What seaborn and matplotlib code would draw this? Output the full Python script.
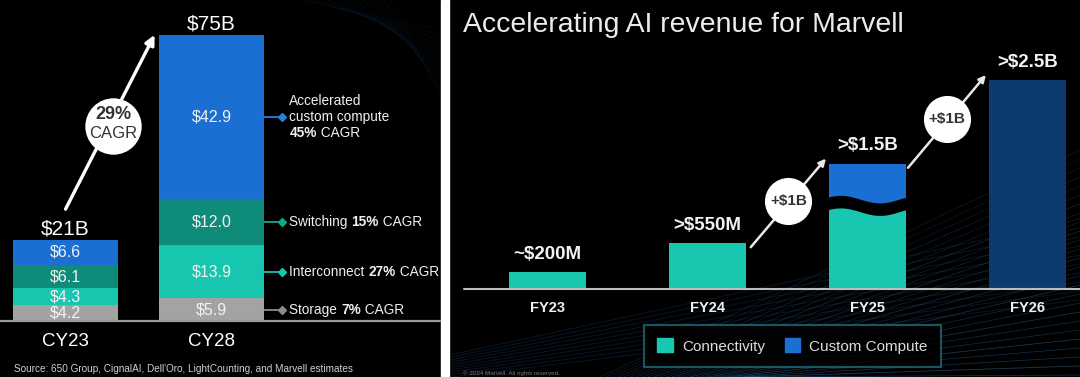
import numpy as np
import pandas as pd
import seaborn as sns
import matplotlib
matplotlib.use("Agg")
import matplotlib.pyplot as plt
from matplotlib.patches import Rectangle, Patch

# ---------------- data ----------------
years_l = ["CY23", "CY28"]
storage = [4.2, 5.9]
interconnect = [4.3, 13.9]
switching = [6.1, 12.0]
compute = [6.6, 42.9]
totals_l = ["$21B", "$75B"]
cagr_overall = ["29%", "CAGR"]

fy = ["FY23", "FY24", "FY25", "FY26"]
connectivity = [200, 550, 1000, 0]
total_rev = [200, 550, 1500, 2500]
fy_labels = ["~$200M", ">$550M", ">$1.5B", ">$2.5B"]
step_labels = ["+$1B", "+$1B"]

# ---------------- style ----------------
sns.set_theme(style="white")
plt.rcParams["font.family"] = ["Liberation Sans", "DejaVu Sans"]

C_COMPUTE = "#1b6fd3"
C_SWITCH = "#0f8b79"
C_INTER = "#17c6ae"
C_STORE = "#a3a3a3"
C_TEAL = "#19c7b0"
C_BLUE = "#1a6fd2"
C_NAVY = "#0d3b6d"

W, H = 1080, 377
fig = plt.figure(figsize=(W / 100, H / 100), dpi=100, facecolor="black")


def px_axes(x0, y0, x1, y1, z=1):
    ax = fig.add_axes([x0 / W, 1 - y1 / H, (x1 - x0) / W, (y1 - y0) / H])
    ax.set_zorder(z)
    ax.patch.set_alpha(0)
    return ax


# background (streaks + divider)
bg = px_axes(0, 0, W, H, z=0)
bg.set_xlim(0, W)
bg.set_ylim(H, 0)
bg.axis("off")
# right panel streaks (bottom right)
for k in range(26):
    y_end = 150 + k * 9
    bg.plot([600 + k * 6, 1080], [377, y_end], color="#2a78c8" if k % 3 else "#4aa0e0",
            lw=0.5, alpha=0.18 + 0.01 * k, zorder=0)
for k in range(10):
    bg.plot([452, 1080], [377 - k * 2.5, 300 - k * 9], color="#2563b0", lw=0.7, alpha=0.22, zorder=0)
# left panel streaks (top right)
for k in range(14):
    bg.plot([300 + k * 7, 440], [0, 30 + k * 5], color="#245f9e", lw=0.5, alpha=0.22,
            ls=(0, (1, 1)), zorder=0)
# divider between the two slides
bg.add_patch(Rectangle((441, 0), 8, H, color="white", zorder=5))

# ---------------- left panel ----------------
axL = px_axes(0, 0, 440, 321, z=2)
layers = [storage, interconnect, switching, compute]
cols = [C_STORE, C_INTER, C_SWITCH, C_COMPUTE]
cums = np.cumsum(np.array(layers), axis=0)
for i in range(len(layers) - 1, -1, -1):
    sns.barplot(x=years_l, y=cums[i], color=cols[i], width=0.72, saturation=1,
                linewidth=0, ax=axL)
axL.set_xlim(-0.449, 2.565)
axL.set_ylim(0, 83.8)
for s in axL.spines.values():
    s.set_visible(False)
axL.set_yticks([])
axL.tick_params(axis="x", length=0, pad=9, labelsize=13.5, labelcolor="white")
axL.axhline(0, color="#9a9a9a", lw=1.6, xmin=0, xmax=1, clip_on=False)

# segment value labels
for i, layer in enumerate(layers):
    for j, v in enumerate(layer):
        axL.text(j, cums[i][j] - v / 2, f"${v:.1f}", ha="center", va="center",
                 color="#f2f2f2", fontsize=11.5)
# total labels
tot_l = cums[-1]
for j, lab in enumerate(totals_l):
    axL.annotate(lab, (j, tot_l[j]), xytext=(0, 7.5), textcoords="offset points",
                 ha="center", va="center", color="white", fontsize=15)

# growth arrow + circle
axL.annotate("", xy=(0.61, tot_l[1]), xytext=(0.0, tot_l[0] + 8),
             arrowprops=dict(arrowstyle="-|>", color="white", lw=2.4,
                             mutation_scale=14, shrinkA=0, shrinkB=0))
cx, cy = 0.325, 51.0
axL.scatter([cx], [cy], s=1650, color="white", zorder=5, linewidths=0)
axL.annotate(cagr_overall[0], (cx, cy), xytext=(0, 8), textcoords="offset points",
             ha="center", va="center", fontsize=13, fontweight="bold", color="#333333", zorder=6)
axL.annotate(cagr_overall[1], (cx, cy), xytext=(0, -5.5), textcoords="offset points",
             ha="center", va="center", fontsize=12, color="#333333", zorder=6)

# right-hand segment callouts
x_edge = 1 + 0.36
x_dot = 1.483
x_txt = 1.533
call_cols = ["#8c8c8c", "#18c4ad", "#17a58f", "#2a7fd8"]


def rich(ax, x, y, parts, size=9.8, dy=0):
    t = None
    for txt, bold in parts:
        kw = dict(fontsize=size, color="#f0f0f0", fontweight="bold" if bold else "normal")
        if t is None:
            t = ax.annotate(txt, (x, y), xytext=(0, dy), textcoords="offset points",
                            ha="left", va="center", **kw)
        else:
            t = ax.annotate(txt, xy=(1, 0), xycoords=t, va="bottom", ha="left", **kw)
    return t


names = ["Storage ", "Interconnect ", "Switching ", None]
pcts = ["7%", "27%", "15%", "45%"]
for i, layer in enumerate(layers):
    yc = cums[i][1] - layer[1] / 2
    axL.plot([x_edge, x_dot], [yc, yc], color=call_cols[i], lw=1.3, clip_on=False)
    axL.plot([x_dot], [yc], marker="D", ms=4, color=call_cols[i], clip_on=False)
    if names[i] is not None:
        rich(axL, x_txt, yc, [(names[i], False), (pcts[i], True), (" CAGR", False)])
    else:
        rich(axL, x_txt, yc, [("Accelerated", False)], dy=11.5)
        rich(axL, x_txt, yc, [("custom compute", False)], dy=0)
        rich(axL, x_txt, yc, [(pcts[i], True), (" CAGR", False)], dy=-11.5)

fig.text(14 / W, 1 - 369 / H, "Source: 650 Group, CignalAI, Dell'Oro, LightCounting, and Marvell estimates",
         color="#d0d0d0", fontsize=7.2, va="center", ha="left")

# ---------------- right panel ----------------
axR = px_axes(449, 0, 1080, 289, z=2)
pal = [C_TEAL, C_TEAL, C_BLUE, C_NAVY]
sns.barplot(x=fy, y=total_rev, hue=fy, palette=pal, legend=False, width=0.48,
            saturation=1, linewidth=0, ax=axR)
sns.barplot(x=fy, y=connectivity, color=C_TEAL, width=0.48, saturation=1,
            linewidth=0, ax=axR)
axR.set_xlim(-0.616, 3.328)
axR.set_ylim(0, 3457)
for s in axR.spines.values():
    s.set_visible(False)
axR.set_yticks([])
axR.tick_params(axis="x", length=0, pad=9, labelsize=10.5, labelcolor="#f0f0f0")
for lab in axR.get_xticklabels():
    lab.set_fontweight("bold")
axR.axhline(0, color="#bdbdbd", lw=1.5, clip_on=False, xmin=0.024)

# wavy break between connectivity and custom compute in FY25
xs = np.linspace(2 - 0.245, 2 + 0.245, 80)
tt = (xs - xs[0]) / (xs[-1] - xs[0])
mid = connectivity[2] + 45 * np.sin(2 * np.pi * tt + 0.6)
axR.fill_between(xs, mid - 75, mid + 75, color="black", zorder=4, linewidth=0)

for j, lab in enumerate(fy_labels):
    axR.annotate(lab, (j, total_rev[j]), xytext=(0, 12.8), textcoords="offset points",
                 ha="center", va="center", color="#f2f2f2", fontsize=13.5, fontweight="bold")

# step arrows with circles
for k, (a, b) in enumerate([(1, 2), (2, 3)]):
    x0 = a + 0.27 if a == 1 else a + 0.253
    y0 = total_rev[a]
    x1, y1 = b - 0.26, total_rev[b] + 60
    axR.annotate("", xy=(x1, y1), xytext=(x0, y0 - 50),
                 arrowprops=dict(arrowstyle="-|>", color="#e8e8e8", lw=1.8,
                                 mutation_scale=10, shrinkA=0, shrinkB=0), zorder=3)
    cxr = (x0 + x1) / 2
    cyr = (y0 + y1) / 2
    axR.scatter([cxr], [cyr], s=1150, color="white", zorder=5, linewidths=0)
    axR.text(cxr, cyr, step_labels[k], ha="center", va="center", fontsize=11,
             fontweight="bold", color="#333333", zorder=6)

fig.text(463 / W, 1 - 25 / H, "Accelerating AI revenue for Marvell", color="#ececec",
         fontsize=20.4, ha="left", va="center")
fig.text(463 / W, 1 - 373 / H, "\u00a9 2024 Marvell. All rights reserved.", color="#777777",
         fontsize=4.5, ha="left", va="center")

leg = fig.legend(handles=[Patch(color=C_TEAL, label="Connectivity"),
                          Patch(color=C_BLUE, label="Custom Compute")],
                 loc="center", bbox_to_anchor=(792.5 / W, 1 - 346 / H), ncol=2,
                 frameon=True, facecolor="black", edgecolor="#1f6a7a", fancybox=False,
                 fontsize=11, labelcolor="#dcdcdc", handlelength=1.0, handleheight=1.0,
                 borderpad=0.85, columnspacing=1.3, handletextpad=0.6, borderaxespad=0)
leg.get_frame().set_linewidth(1.5)
leg.set_zorder(10)

fig.savefig("out.png", dpi=100, facecolor="black")
